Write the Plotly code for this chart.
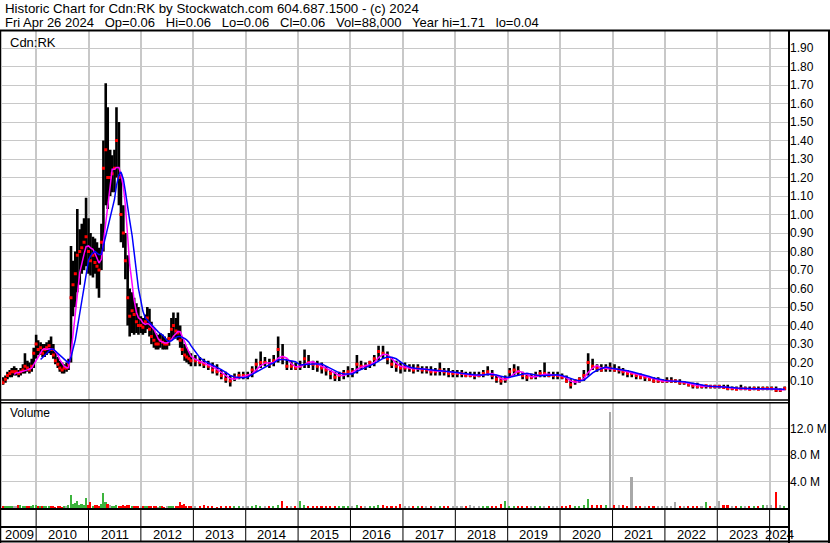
import pandas as pd
import plotly.graph_objects as go

W, H = 830, 543

# ---------------- data ----------------
# semi-monthly points May 2009 - Dec 2012, monthly (mid-month) Jan 2013 - Apr 2024
semi_dates = pd.date_range('2009-05-01', '2012-12-16', freq='SMS')
month_dates = pd.date_range('2013-01-01', '2024-04-01', freq='MS') + pd.Timedelta(days=14)
dates = semi_dates.append(month_dates)

high_semi = [
    .12, .12, .13, .15, .16, .17, .18, .17, .16, .17, .19, .25, .21, .20, .22, .28,
    .35, .32, .31, .30, .30, .31, .32, .34, .30, .26, .23, .21, .20, .19, .20, .22,
    .83, .75, .80, 1.03, .92, .95, .98, 1.09,
    .98, .90, .88, .87, .85, .82, .95, 1.40, 1.71, 1.58, 1.35, 1.32, 1.35, 1.58, 1.50, 1.22,
    1.05, .90, .78, .60, .58, .55, .52, .50,
    .45, .44, .46, .50, .49, .42, .38, .36, .35, .36, .35, .34, .33, .36, .44, .47,
    .44, .47, .40, .33, .30, .28, .26, .25,
]
low_semi = [
    .08, .08, .09, .11, .12, .12, .13, .13, .12, .13, .14, .14, .15, .14, .15, .17,
    .22, .24, .24, .23, .23, .24, .25, .24, .22, .19, .17, .15, .14, .14, .15, .16,
    .20, .45, .50, .58, .62, .68, .70, .72,
    .68, .67, .66, .68, .60, .55, .70, .80, 1.05, 1.03, 1.10, 1.12, 1.12, 1.20, 1.05, .85,
    .82, .65, .40, .34, .36, .35, .36, .35,
    .36, .35, .36, .38, .34, .30, .28, .27, .27, .28, .27, .27, .27, .29, .32, .33,
    .33, .32, .28, .24, .21, .20, .19, .18,
]
close_semi = [
    .10, .09, .11, .13, .14, .15, .15, .15, .14, .15, .16, .18, .17, .16, .18, .25,
    .30, .27, .28, .25, .27, .28, .29, .27, .24, .21, .19, .17, .16, .17, .17, .19,
    .55, .62, .68, .78, .80, .82, .85, .88,
    .80, .75, .78, .74, .72, .70, .85, 1.25, 1.35, 1.20, 1.20, 1.22, 1.25, 1.40, 1.20, 1.00,
    .90, .75, .55, .45, .48, .46, .42, .40,
    .40, .39, .42, .44, .38, .34, .32, .30, .30, .32, .31, .30, .30, .33, .38, .40,
    .37, .36, .32, .27, .24, .23, .22, .21,
]
vol_semi = [  # millions
    .2, .3, .25, .3, .2, .25, .3, .2, .5, .4, .3, .35, .2, .25, .3, .4,
    .5, .3, .25, .2, .3, .25, .2, .3, .2, .15, .2, .2, .15, .2, .3, .4,
    1.9, .6, .7, 1.0, .5, .6, .5, 1.5,
    .4, .85, .3, .5, .4, .3, .6, 2.2, .9, .6, .4, .3, .3, .4, .3, .3,
    .4, .3, .5, .4, .3, .2, .3, .2,
    .3, .2, .3, .3, .2, .3, .2, .2, .15, .2, .2, .15, .2, .3, .2, .3,
    .2, .3, .85, .5, .6, .3, .2, .2,
]

high_month = [
    .24, .23, .22, .21, .20, .19, .16, .15, .13, .14, .15, .15,   # 2013
    .15, .18, .22, .26, .23, .22, .24, .34, .30, .22, .21, .20,   # 2014
    .21, .27, .24, .21, .21, .20, .18, .16, .15, .15, .16, .18,   # 2015
    .17, .24, .21, .20, .21, .24, .29, .29, .26, .23, .21, .20,   # 2016
    .20, .19, .19, .19, .18, .18, .18, .17, .20, .17, .17, .16,   # 2017
    .16, .16, .15, .15, .15, .15, .16, .18, .16, .13, .12, .13,   # 2018
    .17, .19, .18, .15, .14, .14, .15, .16, .20, .15, .15, .15,   # 2019
    .14, .13, .11, .11, .12, .16, .25, .22, .19, .19, .19, .20,   # 2020
    .19, .18, .17, .16, .15, .14, .14, .13, .12, .12, .12, .11,   # 2021
    .12, .12, .11, .11, .10, .09, .09, .09, .08, .08, .08, .08,   # 2022
    .08, .08, .08, .07, .07, .08, .07, .07, .07, .07, .07, .07,   # 2023
    .07, .07, .06, .07,                                           # 2024
]
low_month = [
    .18, .18, .17, .16, .14, .13, .11, .09, .07, .10, .11, .11,
    .11, .12, .15, .17, .18, .17, .18, .20, .19, .16, .16, .16,
    .16, .17, .17, .16, .15, .14, .13, .11, .10, .10, .11, .12,
    .12, .14, .16, .16, .17, .18, .21, .22, .19, .17, .15, .14,
    .15, .15, .14, .15, .14, .14, .13, .13, .13, .13, .12, .12,
    .12, .12, .12, .12, .11, .12, .12, .13, .11, .09, .08, .09,
    .12, .13, .13, .11, .10, .11, .11, .12, .12, .12, .11, .11,
    .11, .09, .06, .08, .09, .10, .13, .16, .15, .15, .15, .15,
    .15, .14, .13, .12, .12, .11, .11, .10, .10, .09, .09, .09,
    .09, .09, .09, .08, .08, .07, .06, .06, .06, .06, .06, .06,
    .06, .06, .05, .05, .05, .05, .05, .05, .05, .05, .05, .05,
    .05, .04, .04, .05,
]
close_month = [
    .21, .20, .19, .18, .16, .15, .13, .11, .10, .12, .13, .13,
    .13, .16, .19, .20, .20, .19, .21, .27, .22, .18, .18, .17,
    .18, .22, .20, .19, .18, .17, .16, .14, .12, .13, .14, .15,
    .15, .19, .18, .18, .20, .22, .26, .25, .22, .19, .18, .17,
    .17, .17, .16, .17, .16, .16, .15, .15, .16, .15, .14, .14,
    .14, .14, .13, .13, .13, .13, .14, .15, .13, .11, .10, .11,
    .15, .16, .15, .13, .12, .12, .13, .14, .14, .13, .13, .13,
    .12, .10, .08, .10, .11, .13, .20, .18, .17, .16, .17, .17,
    .16, .16, .15, .14, .14, .13, .12, .12, .11, .10, .10, .10,
    .10, .10, .10, .09, .09, .08, .075, .07, .07, .075, .07, .07,
    .07, .065, .06, .06, .055, .06, .06, .055, .06, .055, .06, .06,
    .06, .05, .05, .06,
]
vol_month = [
    .3, .2, .45, .2, .2, .15, .2, .2, .3, .2, .2, .2,
    .2, .3, .4, .3, .2, .2, .3, .5, 1.0, .3, .2, .2,
    1.1, .5, .3, .2, .2, .2, .2, .2, .2, .2, .2, .3,
    .2, .4, .3, .2, .3, .3, .5, .4, .3, .2, .3, .6,
    .3, .2, .2, .2, .2, .2, .3, .2, .3, .2, .2, .2,
    .2, .2, .2, .45, .2, .2, .2, .3, .2, .3, .6, 1.1,
    .3, .3, .2, .2, .2, .2, .2, .2, .3, .2, .2, .3,
    .3, .3, .4, .3, .3, .4, 1.35, .5, .4, .4, .5, 14.5,
    .5, .4, .4, .3, 4.7, .3, .3, .3, .3, .3, .3, .3,
    .3, .3, .85, .3, .3, .2, .3, .2, .3, .85, .3, .3,
    1.1, .5, .4, .3, .3, .3, .3, .3, .3, .3, .4, .5,
    .4, 2.4, .4, .3,
]

high = high_semi + high_month
low = low_semi + low_month
close = close_semi + close_month
volume_m = vol_semi + vol_month

price_ticks = [round(0.1 * i, 2) for i in range(1, 20)]
vol_ticks_m = [4, 8, 12]
years = list(range(2009, 2025))

header1 = "Historic Chart for Cdn:RK by Stockwatch.com 604.687.1500 - (c) 2024"
header2 = ("Fri Apr 26 2024\u00a0\u00a0 Op=0.06\u00a0\u00a0 Hi=0.06\u00a0\u00a0 Lo=0.06\u00a0\u00a0 "
           "Cl=0.06\u00a0\u00a0 Vol=88,000\u00a0\u00a0 Year hi=1.71\u00a0\u00a0 lo=0.04")

# ---------------- derived ----------------
s_close = pd.Series(close, index=dates)
ma_fast = s_close.rolling('70D').mean()
ma_slow = s_close.rolling('126D').mean()
ma_fast[ma_fast.index < pd.Timestamp('2009-08-01')] = None
ma_slow[ma_slow.index < pd.Timestamp('2010-02-01')] = None

bar_x, bar_y = [], []
for d, h, l in zip(dates, high, low):
    bar_x += [d, d, None]
    bar_y += [l, h, None]

vol_colors = []
prev = None
for c in close:
    if prev is None or c == prev:
        vol_colors.append('#a8a8a8')
    elif c > prev:
        vol_colors.append('#3cb43c')
    else:
        vol_colors.append('#ff0000')
    prev = c

X0 = pd.Timestamp('2009-05-08')
X1 = pd.Timestamp('2024-05-15')

def px(x):
    return x / W

def py(y):
    return 1 - y / H

FONT = "Liberation Sans, Arial, sans-serif"
GRID = '#c8c8c8'

fig = go.Figure()
fig.add_trace(go.Scatter(x=bar_x, y=bar_y, mode='lines', line=dict(color='black', width=2.6),
                         hoverinfo='skip', xaxis='x', yaxis='y'))
fig.add_trace(go.Scatter(x=dates, y=close, mode='markers',
                         marker=dict(color='#ff0000', size=3, symbol='square', line=dict(width=0)),
                         xaxis='x', yaxis='y'))
fig.add_trace(go.Scatter(x=dates, y=ma_fast.values, mode='lines', line=dict(color='#ff00ff', width=1.5),
                         xaxis='x', yaxis='y'))
fig.add_trace(go.Scatter(x=dates, y=ma_slow.values, mode='lines', line=dict(color='#0000ff', width=1.5),
                         xaxis='x', yaxis='y'))
fig.add_trace(go.Bar(x=dates, y=[v * 1e6 for v in volume_m], marker=dict(color=vol_colors, line=dict(width=0)),
                     width=11 * 86400000, xaxis='x2', yaxis='y2'))

year_starts = [f'{y}-01-01' for y in years[1:]]
xcommon = dict(type='date', range=[X0, X1], domain=[px(2), px(789)], tickvals=year_starts,
               showticklabels=False, showgrid=True, gridcolor=GRID, gridwidth=2,
               zeroline=False, showline=False, ticks='', fixedrange=True)

fig.update_layout(
    width=W, height=H, margin=dict(l=0, r=0, t=0, b=0),
    paper_bgcolor='white', plot_bgcolor='white', showlegend=False,
    font=dict(family=FONT, size=12, color='black'),
    bargap=0,
    xaxis=dict(**xcommon, anchor='y'),
    xaxis2=dict(**xcommon, anchor='y2', matches='x'),
    yaxis=dict(domain=[py(399.5), py(31)], range=[0, 1.992], side='right',
               tickvals=price_ticks, ticktext=[f'{v:.2f}' for v in price_ticks],
               showgrid=True, gridcolor=GRID, gridwidth=1, zeroline=False, showline=False,
               ticks='', tickfont=dict(size=12, family=FONT, color='black'), anchor='x', fixedrange=True),
    yaxis2=dict(domain=[py(508), py(402)], range=[0, 16e6], side='right',
                tickvals=[v * 1e6 for v in vol_ticks_m], ticktext=[f'{v:.1f} M' for v in vol_ticks_m],
                showgrid=True, gridcolor=GRID, gridwidth=1, zeroline=False, showline=False,
                ticks='', tickfont=dict(size=12, family=FONT, color='black'), anchor='x2', fixedrange=True),
)

shapes = []

def hline(y, x0, x1, w):
    shapes.append(dict(type='line', xref='paper', yref='paper', x0=px(x0), x1=px(x1),
                       y0=py(y), y1=py(y), line=dict(color='black', width=w)))

def vline(x, y0, y1, w):
    shapes.append(dict(type='line', xref='paper', yref='paper', x0=px(x), x1=px(x),
                       y0=py(y0), y1=py(y1), line=dict(color='black', width=w)))

hline(30.5, 0, W, 2)
hline(400, 0, 789, 1.5)
hline(402.8, 0, 789, 1.5)
hline(509, 0, 789, 2)
hline(527, 0, 789, 2)
hline(541.5, 0, W, 2)
vline(0.5, 30, H, 1.5)
vline(829, 30, H, 2)
vline(789, 30, H, 2)
for ys in year_starts:
    shapes.append(dict(type='line', xref='x', yref='paper', x0=ys, x1=ys,
                       y0=py(509), y1=py(542), line=dict(color='black', width=1)))

annotations = [
    dict(text=header1, x=px(3), y=py(8.5), xref='paper', yref='paper', xanchor='left', yanchor='middle',
         showarrow=False, font=dict(size=13.3, family=FONT, color='black')),
    dict(text=header2, x=px(3), y=py(22.5), xref='paper', yref='paper', xanchor='left', yanchor='middle',
         showarrow=False, font=dict(size=13, family=FONT, color='black')),
    dict(text='Cdn:RK', x=px(8), y=py(42), xref='paper', yref='paper', xanchor='left', yanchor='middle',
         showarrow=False, font=dict(size=13, family=FONT, color='black')),
    dict(text='Volume', x=px(8), y=py(413), xref='paper', yref='paper', xanchor='left', yanchor='middle',
         showarrow=False, font=dict(size=12, family=FONT, color='black')),
]
bounds = [X0] + [pd.Timestamp(y) for y in year_starts] + [X1]
for yr, a, b in zip(years, bounds[:-1], bounds[1:]):
    mid = a + (b - a) / 2
    annotations.append(dict(text=str(yr), x=mid, y=py(534.5), xref='x', yref='paper',
                            xanchor='center', yanchor='middle', showarrow=False,
                            font=dict(size=13, family=FONT, color='black')))

fig.update_layout(shapes=shapes, annotations=annotations)
fig.write_html("out.html", config={'displayModeBar': False},
               post_script="document.body.style.margin='0';document.body.style.padding='0';"
                           "document.body.style.overflow='hidden';")
